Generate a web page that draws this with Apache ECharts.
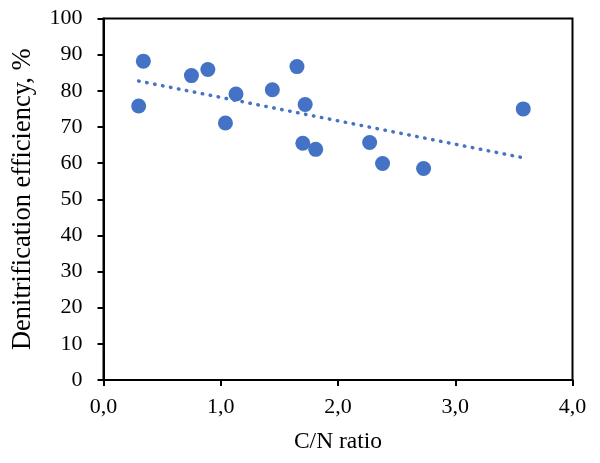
<!DOCTYPE html>
<html>
<head>
<meta charset="utf-8">
<script src="https://cdn.jsdelivr.net/npm/echarts@6/dist/echarts.min.js"></script>
<style>html,body{margin:0;padding:0;background:#fff}#c{width:600px;height:463px}</style>
</head>
<body>
<div id="c"></div>
<script>
const cnRatio = [0.30, 0.34, 0.75, 0.89, 1.04, 1.13, 1.44, 1.65, 1.72, 1.70, 1.81, 2.27, 2.38, 2.73, 3.58];
const efficiency = [75.8, 88.2, 84.2, 85.9, 71.1, 79.1, 80.3, 86.7, 76.2, 65.5, 63.8, 65.7, 59.9, 58.5, 75.0];
const trendX = [0.30, 3.56];
const trendY = [82.7, 61.6];
const xTicks = ['0,0', '1,0', '2,0', '3,0', '4,0'];

const font = 'Liberation Serif';
const chart = echarts.init(document.getElementById('c'), null, {renderer: 'canvas'});
chart.setOption({
  animation: false,
  grid: {left: 103.5, top: 18.5, right: 27.5, bottom: 83, show: true, borderColor: '#000', borderWidth: 2},
  xAxis: {
    type: 'value', min: 0, max: 4, interval: 1,
    name: 'C/N ratio', nameLocation: 'middle', nameGap: 50,
    nameTextStyle: {fontFamily: font, fontSize: 23.5, color: '#000'},
    axisLine: {show: true, onZero: false, lineStyle: {color: '#000', width: 2}},
    axisTick: {show: true, inside: false, length: 6, lineStyle: {color: '#000', width: 2}},
    axisLabel: {fontFamily: font, fontSize: 22, color: '#000', margin: 16,
      formatter: v => xTicks[Math.round(v)]},
    splitLine: {show: false}
  },
  yAxis: {
    type: 'value', min: 0, max: 100, interval: 10,
    name: 'Denitrification efficiency, %', nameLocation: 'middle', nameGap: 67,
    nameTextStyle: {fontFamily: font, fontSize: 26.5, color: '#000'},
    axisLine: {show: true, onZero: false, lineStyle: {color: '#000', width: 2}},
    axisTick: {show: true, inside: false, length: 6, lineStyle: {color: '#000', width: 2}},
    axisLabel: {fontFamily: font, fontSize: 22, color: '#000', margin: 21},
    splitLine: {show: false}
  },
  series: [
    {
      type: 'scatter',
      data: cnRatio.map((x, i) => [x, efficiency[i]]),
      symbol: 'circle', symbolSize: 15,
      itemStyle: {color: '#4472C4', opacity: 1},
      z: 3
    },
    {
      type: 'line',
      data: trendX.map((x, i) => [x, trendY[i]]),
      symbol: 'none',
      lineStyle: {color: '#4472C4', width: 3.5, type: [0.5, 7.6], cap: 'round'},
      z: 2
    }
  ]
});
</script>
</body>
</html>
